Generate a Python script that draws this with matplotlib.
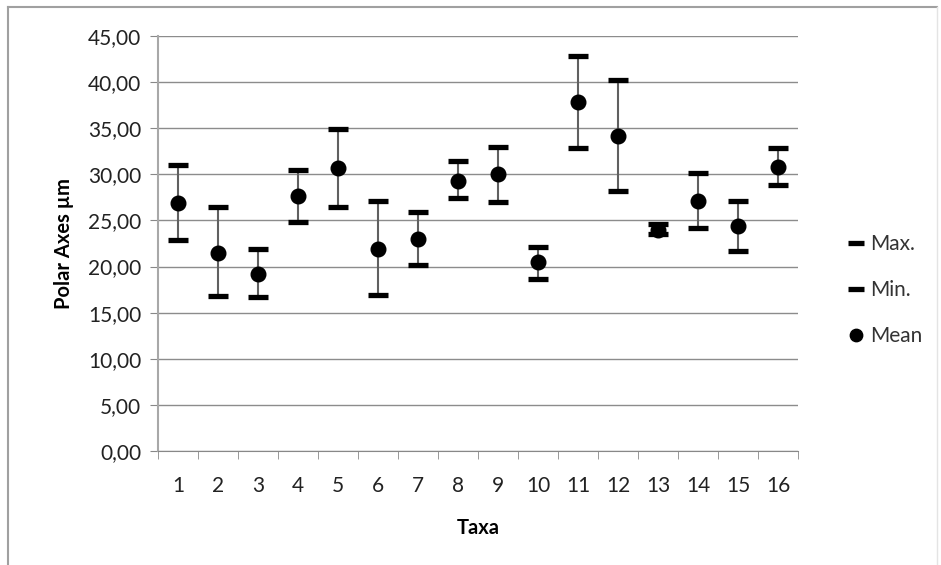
import numpy as np
import matplotlib
matplotlib.use("Agg")
import matplotlib.pyplot as plt
from matplotlib.lines import Line2D

# values (polar axis, µm)
taxa = list(range(1, 17))
max_vals = [31.0, 26.5, 21.9, 30.5, 34.9, 27.1, 25.9, 31.4, 33.0, 22.1, 42.8, 40.2, 24.6, 30.1, 27.1, 32.9]
min_vals = [22.9, 16.8, 16.7, 24.8, 26.5, 16.9, 20.2, 27.4, 27.0, 18.7, 32.9, 28.2, 23.5, 24.2, 21.7, 28.8]
mean_vals = [26.9, 21.5, 19.2, 27.7, 30.7, 21.9, 23.0, 29.3, 30.0, 20.5, 37.8, 34.2, 24.0, 27.1, 24.4, 30.8]
y_ticks = [0, 5, 10, 15, 20, 25, 30, 35, 40, 45]

plt.rcParams["font.family"] = ["Lato", "DejaVu Sans"]

fig = plt.figure(figsize=(9.41, 5.65), dpi=100)
ax = fig.add_axes([158 / 941, 1 - 451 / 565, 640 / 941, 415 / 565])

# outer chart frame (Excel style)
fig.add_artist(Line2D([8 / 941, 8 / 941], [0, 1 - 7 / 565], transform=fig.transFigure, color="#a0a0a0", lw=1.5))
fig.add_artist(Line2D([8 / 941, 937 / 941], [1 - 7 / 565, 1 - 7 / 565], transform=fig.transFigure, color="#a0a0a0", lw=1.5))
fig.add_artist(Line2D([937 / 941, 937 / 941], [0, 1 - 7 / 565], transform=fig.transFigure, color="#e4e4e4", lw=1))

x = np.array(taxa)
ax.vlines(x, min_vals, max_vals, color="#606060", lw=1.5, zorder=2)
ax.plot(x, max_vals, ls="none", marker="_", ms=14, mew=3.8, color="black", label="Max.", zorder=3)
ax.plot(x, min_vals, ls="none", marker="_", ms=14, mew=3.8, color="black", label="Min.", zorder=3)
ax.plot(x, mean_vals, ls="none", marker="o", ms=10.5, color="black", label="Mean", zorder=4)

ax.set_xlim(0.5, 16.5)
ax.set_ylim(0, 45)
ax.set_yticks(y_ticks)
ax.set_yticklabels([f"{v:.2f}".replace(".", ",") for v in y_ticks])
ax.set_xticks(x)
ax.set_xticklabels([str(t) for t in taxa])
ax.set_xticks(np.arange(0.5, 17, 1), minor=True)
ax.tick_params(axis="x", which="major", length=0, pad=18, labelsize=15, labelcolor="#222222")
ax.tick_params(axis="x", which="minor", length=6, color="#888888", direction="out")
ax.tick_params(axis="y", length=6, color="#888888", direction="out", pad=6, labelsize=15, labelcolor="#222222")

ax.grid(axis="y", color="#8c8c8c", lw=1)
ax.set_axisbelow(True)
for s in ["top", "right"]:
    ax.spines[s].set_visible(False)
ax.spines["left"].set_color("#a8a8a8")
ax.spines["bottom"].set_color("#888888")
ax.spines["left"].set_linewidth(1.5)

ax.set_xlabel("Taxa", fontsize=14.5, fontweight="bold", labelpad=16)
ax.set_ylabel("Polar Axes µm", fontsize=14.5, fontweight="bold", labelpad=10)

leg = fig.legend(loc="center left", bbox_to_anchor=(829 / 941, 1 - 290 / 565), frameon=False,
                 fontsize=15, handlelength=0.8, handletextpad=0.25, labelspacing=1.25,
                 markerscale=0.85)
for t in leg.get_texts():
    t.set_color("#333333")

fig.savefig("out.png", dpi=100)
